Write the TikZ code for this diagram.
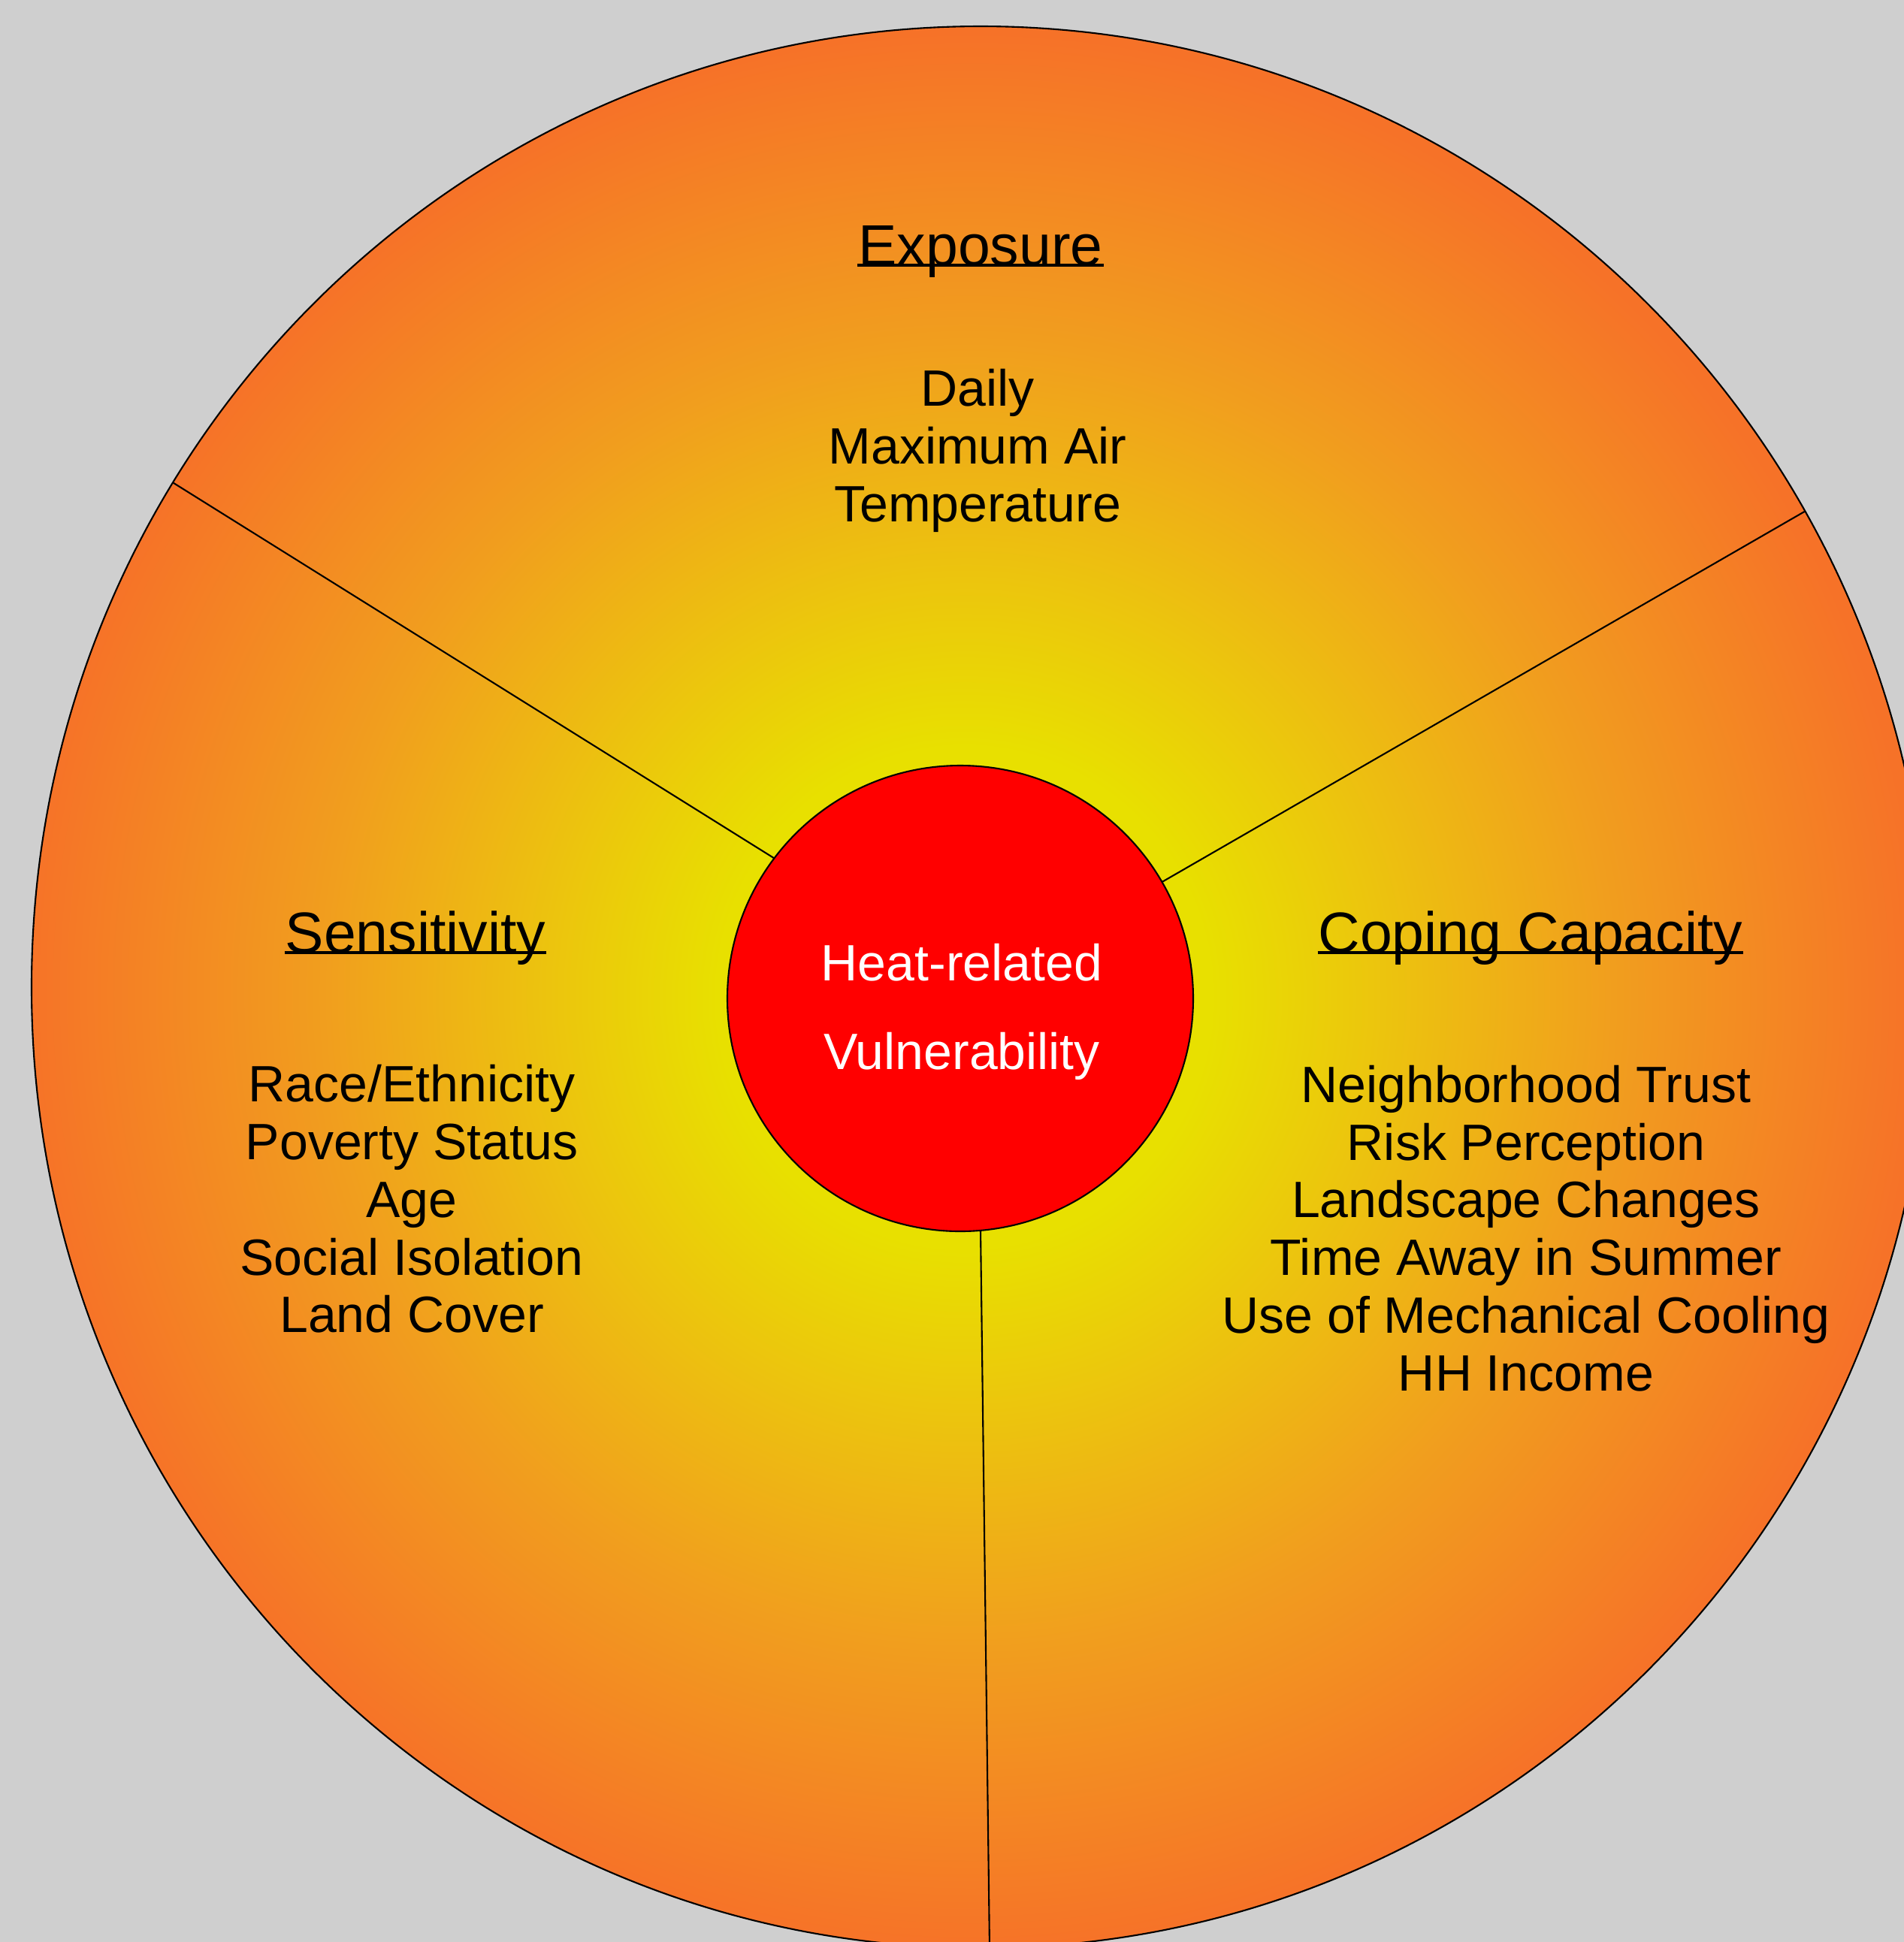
\documentclass[tikz,border=0pt]{standalone}
\usepackage{fontspec}
\setmainfont{Liberation Sans}
\usetikzlibrary{shapes.geometric}
\definecolor{bggray}{RGB}{207,207,207}
\definecolor{hotred}{RGB}{255,0,0}
\definecolor{sunyellow}{RGB}{232,224,0}
\definecolor{warmyellow}{RGB}{236,196,14}
\definecolor{midorange}{RGB}{241,158,30}
\definecolor{rimorange}{RGB}{246,114,40}
\pgfdeclareradialshading{heatglow}{\pgfpoint{-0.5bp}{-0.3bp}}{color(0bp)=(sunyellow); color(6.5bp)=(sunyellow); color(11bp)=(warmyellow); color(17bp)=(midorange); color(25bp)=(rimorange); color(50bp)=(rimorange)}
\newcommand{\bodyfont}{\fontsize{19.35pt}{21.85pt}\selectfont}
\newcommand{\corefont}{\fontsize{19.35pt}{33.6pt}\selectfont}
\newcommand{\headfont}{\fontsize{21.9pt}{25pt}\selectfont}
\tikzset{rim/.style  = {ellipse, draw, inner sep=0pt, outer sep=0pt, minimum width=25.26cm, minimum height=25.58cm, shading=heatglow},
         core/.style = {circle, draw, fill=hotred, inner sep=0pt, outer sep=0pt, minimum size=6.2cm},
         head/.style = {anchor=base, inner sep=0pt, font=\headfont},
         item/.style = {align=center, inner sep=0pt, font=\bodyfont},
         uline/.style = {line width=0.045cm, yshift=-0.125cm}}

\begin{document}
\begin{tikzpicture}[line width=0.6pt]
    \useasboundingbox (0,0) rectangle (25.34,-25.85);
    \clip (0,0) rectangle (25.34,-25.85);
    \fill[bggray] (0,0) rectangle (25.34,-25.85);
    \node[rim] (rim) at (13.05,-13.14) {};
    \node[core] (core) at (12.78,-13.29) {};
    \coordinate (rimB) at ([xshift=0.12cm]rim.south);
    \draw (core.143) -- (rim.148);
    \draw (core.30) -- (rim.30);
    \draw (core.275) -- (rimB);
    \node[item, text=white, font=\corefont] (vuln) at (12.80,-13.47) {Heat-related\\Vulnerability};
    \node[head] (expo) at (13.05,-3.53) {Exposure};
    \node[head] (sens) at (5.53,-12.68) {Sensitivity};
    \node[head] (cope) at (20.37,-12.68) {Coping Capacity};
    \draw[uline] (expo.base west) -- (expo.base east);
    \draw[uline] (sens.base west) -- (sens.base east);
    \draw[uline] (cope.base west) -- (cope.base east);
    \node[item] (expoitems) at (13.01,-6.00) {Daily\\Maximum Air\\Temperature};
    \node[item] (sensitems) at (5.48,-15.96) {Race/Ethnicity\\Poverty Status\\Age\\Social Isolation\\Land Cover};
    \node[item] (copeitems) at (20.31,-16.35) {Neighborhood Trust\\Risk Perception\\Landscape Changes\\Time Away in Summer\\Use of Mechanical Cooling\\HH Income};
\end{tikzpicture}
\end{document}
